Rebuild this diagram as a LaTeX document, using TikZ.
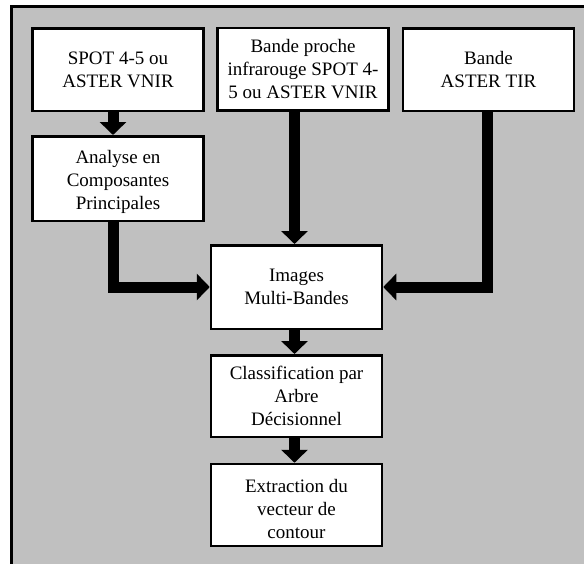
\documentclass[tikz,border=0pt]{standalone}
\usepackage{fontspec}
\setmainfont{Liberation Serif}
\usetikzlibrary{arrows.meta}
\definecolor{bggray}{RGB}{192,192,192}
\tikzset{
  box/.style={draw=black, line width=2.5pt, fill=white, align=center,
    inner sep=1pt, font=\fontsize{19}{23}\selectfont,
    minimum width=171pt},
  arr/.style={line width=11pt, line join=miter, line cap=butt,
    -{Triangle[width=26pt,length=13pt]}}
}
\begin{document}
\begin{tikzpicture}[x=1pt,y=-1pt]
\useasboundingbox (0,0) rectangle (584,563);
\clip (0,0) rectangle (584,563);
\fill[bggray] (10,5) rectangle (600,600);
\draw[line width=3pt] (11.5,600) -- (11.5,6.5) -- (600,6.5);

\node[box, minimum height=82.5pt] (b1) at (118,69.5) {SPOT 4-5 ou\\ASTER VNIR};
\node[box, minimum height=82.5pt] (b2) at (303,69) {Bande proche\\infrarouge SPOT 4-\\5 ou ASTER VNIR};
\node[box, minimum height=82.5pt] (b3) at (488.5,69.5) {Bande\\ASTER TIR};
\node[box, minimum height=84.5pt] (acp) at (118,178.5) {\rule{0pt}{20pt}Analyse en\\Composantes\\Principales};
\node[box, minimum height=83.5pt] (img) at (296.5,287) {Images\\Multi-Bandes};
\node[box, minimum height=81.5pt] (cls) at (296.5,396) {Classification par\\Arbre\\Décisionnel};
\node[box, minimum height=82pt] (ext) at (296.5,505) {\rule{0pt}{22pt}Extraction du\\vecteur de\\contour};

\draw[arr] ([xshift=-5pt]b1.south) -- ([xshift=-5pt]acp.north);
\draw[arr] ([xshift=-5pt]acp.south) |- (img.west);
\draw[arr] ([xshift=-2pt]img.north |- b2.south) -- ([xshift=-2pt]img.north);
\draw[arr] ([xshift=-1.5pt]b3.south) |- (img.east);
\draw[arr] ([xshift=-2pt]img.south) -- ([xshift=-2pt]cls.north);
\draw[arr] ([xshift=-2pt]cls.south) -- ([xshift=-2pt]ext.north);
\end{tikzpicture}
\end{document}
